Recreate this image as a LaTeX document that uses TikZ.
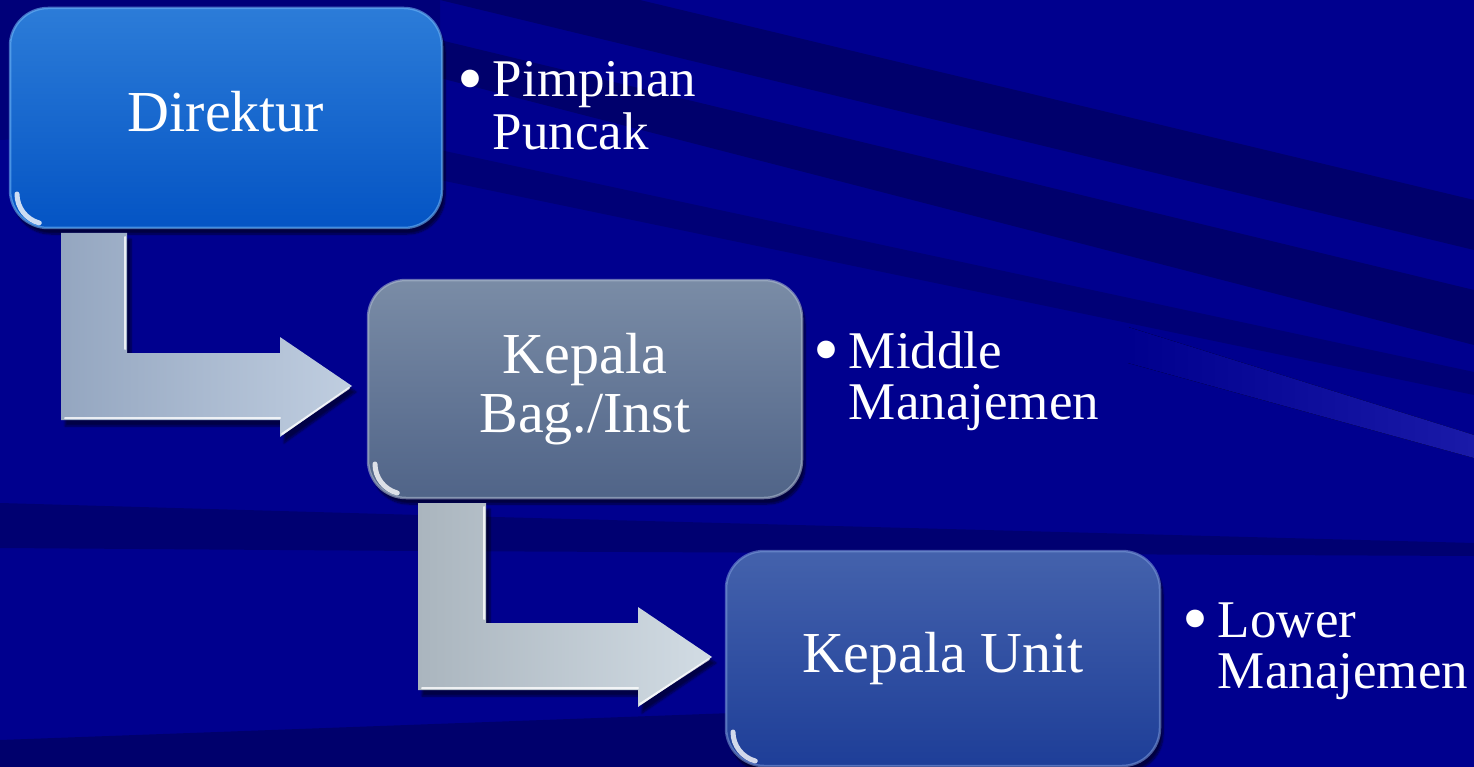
\documentclass[tikz,border=0pt]{standalone}
\usepackage{fontspec}
\setmainfont{Liberation Serif}
\usetikzlibrary{shadows,shadows.blur,calc}
\definecolor{bgblue}{RGB}{0,0,142}
\definecolor{bgdark}{RGB}{0,0,108}
\definecolor{bglight}{RGB}{26,26,168}
\definecolor{bonetop}{RGB}{44,124,216}
\definecolor{bonebot}{RGB}{4,84,196}
\definecolor{boneedge}{RGB}{110,180,245}
\definecolor{btwotop}{RGB}{122,140,166}
\definecolor{btwobot}{RGB}{80,100,136}
\definecolor{btwoedge}{RGB}{170,184,205}
\definecolor{bthrtop}{RGB}{68,98,172}
\definecolor{bthrbot}{RGB}{30,62,152}
\definecolor{bthredge}{RGB}{120,150,215}
\definecolor{aoneleft}{RGB}{148,166,192}
\definecolor{aoneright}{RGB}{192,206,224}
\definecolor{atwoleft}{RGB}{170,181,190}
\definecolor{atworight}{RGB}{210,220,228}
\tikzset{
  boxbase/.style={rounded corners=38pt, inner sep=0pt, outer sep=0pt, text=white,
    align=center, font=\fontsize{58}{59}\selectfont, line width=2.5pt, draw opacity=0.6,
    blur shadow={shadow xshift=3pt, shadow yshift=-6pt, shadow opacity=55, shadow blur steps=8}},
  boxone/.style={boxbase, minimum width=432pt, minimum height=220pt,
    top color=bonetop, bottom color=bonebot, draw=boneedge, text depth=13pt},
  boxtwo/.style={boxbase, minimum width=434pt, minimum height=218pt,
    top color=btwotop, bottom color=btwobot, draw=btwoedge},
  boxthree/.style={boxbase, minimum width=434pt, minimum height=215pt,
    top color=bthrtop, bottom color=bthrbot, draw=bthredge},
  glint/.style={white, line width=5pt, line cap=round, opacity=0.8},
  bul/.style={text=white, inner sep=0pt, outer sep=0pt, font=\fontsize{53}{51}\selectfont},
  arrowbase/.style={blur shadow={shadow xshift=4pt, shadow yshift=-6pt, shadow opacity=50, shadow blur steps=6}},
  arrowone/.style={arrowbase, left color=aoneleft, right color=aoneright},
  arrowtwo/.style={arrowbase, left color=atwoleft, right color=atworight},
  bevel/.style={white, line width=2pt, opacity=0.8, line cap=round}
}
\newcommand{\bigbul}{\raisebox{-0.12em}{\scalebox{1.4}{\textbullet}}}
\begin{document}
\begin{tikzpicture}[x=1pt,y=-1pt]
\useasboundingbox (0,0) rectangle (1474,767);
% background
\fill[bgblue] (0,0) rectangle (1474,767);
\fill[bgdark, opacity=0.6] (0,0) -- (440,0) -- (440,120) -- (0,140) -- cycle;
\fill[bgdark] (440,0) -- (640,0) -- (1474,200) -- (1474,250) -- cycle;
\fill[bgdark] (440,40) -- (1474,290) -- (1474,345) -- (440,78) -- cycle;
\fill[bgdark, opacity=0.7] (440,150) -- (1474,372) -- (1474,395) -- (440,180) -- cycle;
\fill[bgdark, opacity=0.85] (0,503) -- (420,515) -- (1474,543) -- (1474,556) -- (420,551) -- (0,548) -- cycle;
\fill[bgdark] (0,740) -- (760,712) -- (760,767) -- (0,767) -- cycle;
\fill[left color=bgblue, right color=bglight] (1128,327) -- (1474,435) -- (1474,458) -- (1128,363) -- cycle;
% boxes
\node[boxone] (b1) at (226,118) {Direktur};
\node[boxtwo] (b2) at (585,389) {Kepala\\Bag./Inst};
\node[boxthree] (b3) at (943,658.5) {Kepala Unit};
% glints at lower-left corners
\draw[glint] ($(b1.south west)+(7,-34)$) arc[start angle=180, end angle=105, radius=30];
\draw[glint] ($(b2.south west)+(7,-34)$) arc[start angle=180, end angle=105, radius=30];
\draw[glint] ($(b3.south west)+(7,-34)$) arc[start angle=180, end angle=105, radius=30];
% bent arrows
\path[arrowone, shift={($(b1.south west)+(51,5)$)}]
  (0,0) -- (66,0) -- (66,120) -- (219,120) -- (219,104) -- (291,153) -- (219,204) -- (219,187) -- (0,187) -- cycle;
\draw[bevel, shift={($(b1.south west)+(51,5)$)}]
  (4,185) -- (219,185) (221,201) -- (288,155) (64,4) -- (64,116);
\path[arrowtwo, shift={($(b2.south west)+(50,5)$)}]
  (0,0) -- (68,0) -- (68,120) -- (220,120) -- (220,104) -- (294,154) -- (220,204) -- (220,187) -- (0,187) -- cycle;
\draw[bevel, shift={($(b2.south west)+(50,5)$)}]
  (4,185) -- (220,185) (222,201) -- (291,156) (66,4) -- (66,116);
% bullet texts
\node[bul, anchor=base west] (p1) at (457,97)
  {\begin{tabular}[t]{@{}c@{\hspace{10pt}}l@{}}\bigbul & Pimpinan\\ & Puncak\end{tabular}};
\node[bul, anchor=base west] (p2) at (813,368)
  {\begin{tabular}[t]{@{}c@{\hspace{10pt}}l@{}}\bigbul & Middle\\ & Manajemen\end{tabular}};
\node[bul, anchor=base west] (p3) at (1182,637)
  {\begin{tabular}[t]{@{}c@{\hspace{10pt}}l@{}}\bigbul & Lower\\ & Manajemen\end{tabular}};
\end{tikzpicture}
\end{document}
